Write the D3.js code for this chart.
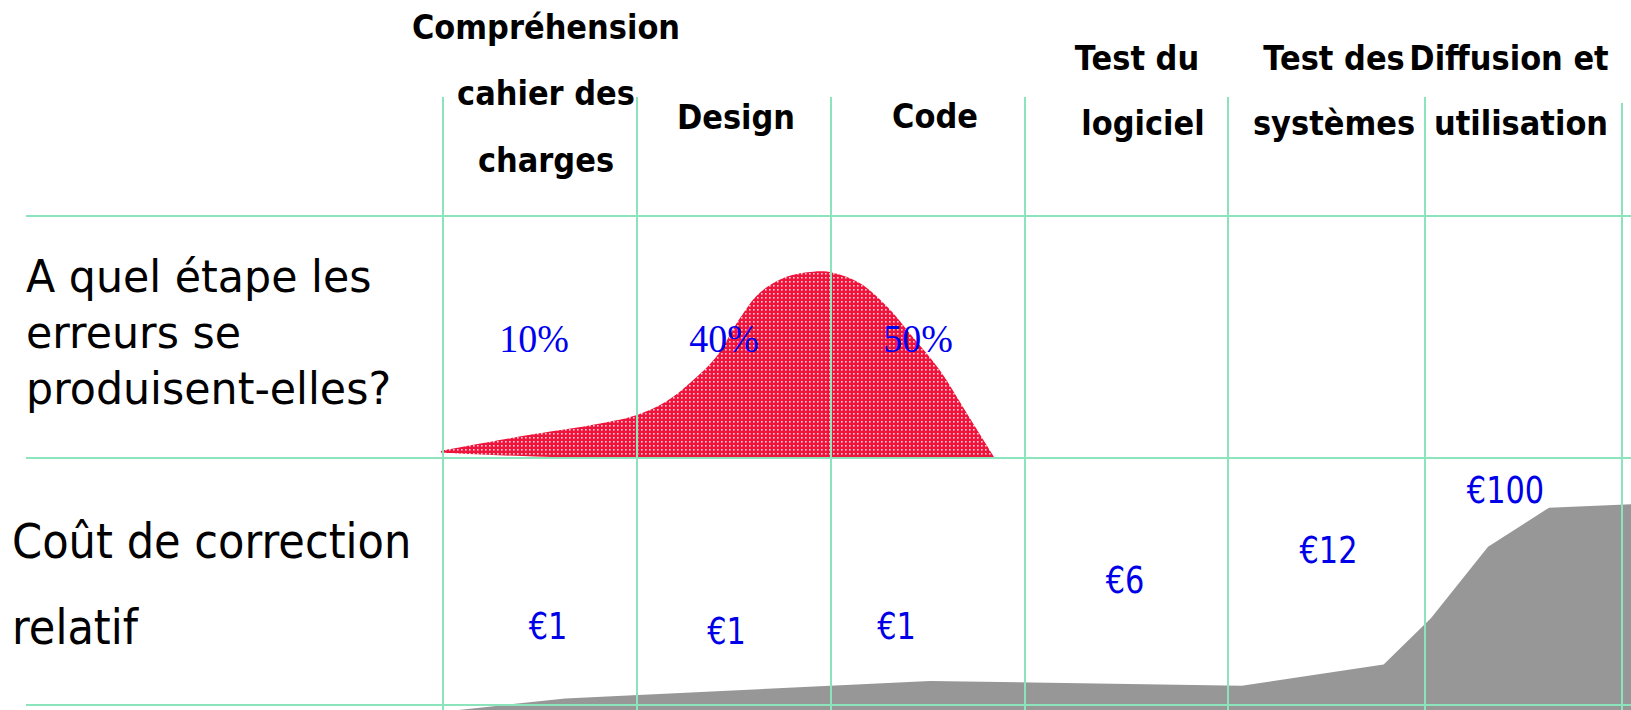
<!DOCTYPE html>
<html>
<head>
<meta charset="utf-8">
<script src="https://cdn.jsdelivr.net/npm/d3@7"></script>
<style>
  html, body { margin: 0; padding: 0; background: #fff; }
  svg { display: block; }
</style>
</head>
<body>
<div id="chart"></div>
<script>
const width = 1631
const height = 710

// phases (columns)
const phases = [
  ['Compréhension', 'cahier des', 'charges'],
  ['Design'],
  ['Code'],
  ['Test du', 'logiciel'],
  ['Test des', 'systèmes'],
  ['Diffusion et', 'utilisation']
]

// where the errors are introduced
const errorShares = ['10%', '40%', '50%']

// relative cost of fixing an error per phase
const costs = [1, 1, 1, 6, 12, 100]

// outline of the red "errors" curve: x in phase units, top / bottom in relative height
const errorX = [-0.01, 0.47, 0.81, 1.0, 1.15, 1.29, 1.41, 1.53, 1.63, 1.77, 1.91, 2.01, 2.15, 2.29, 2.42, 2.56, 2.7, 2.84]
const errorTop = [3, 9.9, 14.3, 17.8, 23.3, 32.2, 41.9, 57.7, 68.1, 74.9, 77, 76.6, 72.2, 62.5, 50.1, 36.4, 18.5, 0.5]
const errorBottom = [2.2, 0.6, 0, 0, 0, 0, 0, 0, 0, 0, 0, 0, 0, 0, 0, 0, 0, 0]

// outline of the grey "cost" area
const costX = [0.08, 0.63, 2.51, 4.07, 4.79, 5.03, 5.32, 5.63, 6.05]
const costLevel = [0, 4.6, 11.5, 9.6, 18.1, 36.4, 64.8, 80.3, 81.7]

const rowLabels = [
  ['A quel étape les', 'erreurs se', 'produisent-elles?'],
  ['Coût de correction', 'relatif']
]

// layout
const colEdges = [443, 637, 831, 1025, 1228, 1425, 1622]
const rowEdges = [216, 458, 705]
const gridColor = '#8be4bc'

const svg = d3
  .select('#chart')
  .append('svg')
  .attr('width', width)
  .attr('height', height)

const defs = svg.append('defs')
const pattern = defs
  .append('pattern')
  .attr('id', 'dots')
  .attr('patternUnits', 'userSpaceOnUse')
  .attr('width', 4)
  .attr('height', 4)
pattern.append('rect').attr('width', 4).attr('height', 4).attr('fill', '#f0143c')
pattern
  .append('rect')
  .attr('x', 1)
  .attr('y', 1)
  .attr('width', 1.6)
  .attr('height', 1.6)
  .attr('fill', '#ffd0d8')

const xScale = d3
  .scaleLinear()
  .domain(d3.range(colEdges.length))
  .range(colEdges)

const yError = d3.scaleLinear().domain([0, 100]).range([rowEdges[1], rowEdges[0]])
const yCost = d3.scaleLinear().domain([0, 100]).range([height, rowEdges[1]])

// red area
const errorPoints = errorX.map((x, i) => ({ x: x, top: errorTop[i], bottom: errorBottom[i] }))
const errorArea = d3
  .area()
  .x(d => xScale(d.x))
  .y0(d => yError(d.bottom))
  .y1(d => yError(d.top))
  .curve(d3.curveCatmullRom)

svg
  .append('path')
  .datum(errorPoints)
  .attr('d', errorArea)
  .attr('fill', 'url(#dots)')

// grey area
const costPoints = costX.map((x, i) => ({ x: x, v: costLevel[i] }))
const costArea = d3
  .area()
  .x(d => xScale(d.x))
  .y0(yCost(0))
  .y1(d => yCost(d.v))

svg
  .append('path')
  .datum(costPoints)
  .attr('d', costArea)
  .attr('fill', '#979797')

// grid
svg
  .selectAll('.hline')
  .data(rowEdges)
  .enter()
  .append('line')
  .attr('class', 'hline')
  .attr('x1', 26)
  .attr('x2', width)
  .attr('y1', d => d)
  .attr('y2', d => d)
  .attr('stroke', gridColor)
  .attr('stroke-width', 2)

svg
  .selectAll('.vline')
  .data(colEdges)
  .enter()
  .append('line')
  .attr('class', 'vline')
  .attr('x1', d => d)
  .attr('x2', d => d)
  .attr('y1', (d, i) => (i === colEdges.length - 1 ? 103 : 97))
  .attr('y2', height)
  .attr('stroke', gridColor)
  .attr('stroke-width', 2)

// squeezed text helper
function label(g, txt, x, y, size, sx, opts) {
  g.append('text')
    .attr('transform', `translate(${x},${y}) scale(${sx},1)`)
    .attr('text-anchor', opts.anchor || 'middle')
    .attr('font-family', opts.family || 'DejaVu Sans, sans-serif')
    .attr('font-weight', opts.weight || 'normal')
    .attr('font-size', size)
    .attr('fill', opts.color || '#000')
    .text(txt)
}

// phase headers
const headerX = [[546, 546, 546], [736], [935], [1137, 1143], [1334, 1334], [1509, 1521]]
const headerBase = [[39, 105, 172], [129], [128], [70, 135], [70, 135], [70, 135]]
const headers = svg.append('g')
phases.forEach((lines, i) => {
  lines.forEach((line, j) => {
    label(headers, line, headerX[i][j], headerBase[i][j], 33, 0.925, { weight: 'bold' })
  })
})

// row labels
const rows = svg.append('g')
rowLabels[0].forEach((line, j) => {
  label(rows, line, 26, 292 + j * 56, 45, 0.95, { anchor: 'start' })
})
rowLabels[1].forEach((line, j) => {
  label(rows, line, 12, 558 + j * 86, 48, 0.9, { anchor: 'start' })
})

// error share labels
const shareDx = [-6, -10, -10]
errorShares.forEach((s, i) => {
  label(svg, s, xScale(i + 0.5) + shareDx[i], 352, 40, 0.95, {
    family: 'Liberation Serif, Times New Roman, serif',
    color: '#0000f0'
  })
})

// cost labels
const costDx = [8, -7.5, -31.5, -1.5, 2, -18]
const costBase = [639, 644, 639, 593, 563, 503]
costs.forEach((c, i) => {
  label(svg, '€' + c, xScale(i + 0.5) + costDx[i], costBase[i], 38, 0.8, { color: '#0000e8' })
})
</script>
</body>
</html>
